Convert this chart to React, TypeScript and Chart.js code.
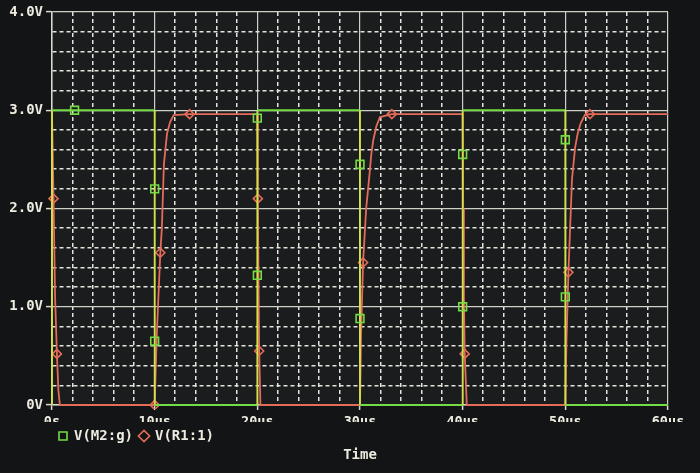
import React, { useEffect, useRef } from 'react';
import { Chart, registerables } from 'chart.js';

Chart.register(...registerables);

// ---- data (time in microseconds, voltage in volts) ----
const seriesNames = ['V(M2:g)', 'V(R1:1)'];

const xTickLabels = ['0s', '10us', '20us', '30us', '40us', '50us', '60us'];
const yTickLabels = ['0V', '1.0V', '2.0V', '3.0V', '4.0V'];
const axisTitle = 'Time';

// V(M2:g) – gate square wave
const gateTime = [0, 0, 2.2, 10, 10, 10, 10, 20, 20, 20, 20, 30, 30, 30, 30, 40, 40, 40, 40, 50, 50, 50, 50, 60];
const gateVolt = [0, 3.0, 3.0, 3.0, 2.2, 0.65, 0, 0, 1.32, 2.92, 3.0, 3.0, 2.45, 0.88, 0, 0, 1.0, 2.55, 3.0, 3.0, 2.7, 1.1, 0, 0];
const gateMarkers = [2, 4, 5, 8, 9, 12, 13, 16, 17, 20, 21];

// V(R1:1) – complementary RC-shaped waveform
const resTime = [
  0, 0.15, 0.3, 0.48, 0.62, 0.77,
  10, 10.2, 10.55, 10.7, 10.9, 11.2, 11.5, 11.85, 13.4,
  20, 20.05, 20.12, 20.18, 20.3,
  30, 30.1, 30.3, 30.6, 30.9, 31.1, 31.3, 31.6, 31.95, 33.1,
  40, 40.05, 40.12, 40.2, 40.4,
  50, 50.1, 50.3, 50.65, 50.95, 51.2, 51.5, 51.9, 52.4, 60,
];
const resVolt = [
  2.96, 2.1, 1.1, 0.52, 0.15, 0,
  0, 0.7, 1.55, 1.8, 2.45, 2.76, 2.88, 2.95, 2.96,
  2.96, 2.1, 1.2, 0.55, 0,
  0, 0.7, 1.45, 2.0, 2.32, 2.55, 2.7, 2.84, 2.93, 2.96,
  2.96, 2.0, 1.1, 0.52, 0,
  0, 0.6, 1.35, 2.3, 2.62, 2.76, 2.87, 2.95, 2.96, 2.96,
];
const resMarkers = [1, 3, 6, 8, 14, 16, 18, 22, 29, 33, 37, 43];

const xMin = 0, xMax = 60, xMinorStep = 2, xMajorStep = 10;
const yMin = 0, yMax = 4, yMinorStep = 0.2, yMajorStep = 1;

// ---- styling ----
const FONT = 'DejaVu Sans Mono';
const TEXT = '#ecebdf';
const GREEN = '#74dc44';
const RED = '#e46c5a';
const EDGE = '#d2e246';

const isMajor = (v: number, step: number) => Math.abs(v / step - Math.round(v / step)) < 1e-6;

const bgPlugin = {
  id: 'bg',
  beforeDraw(chart: any) {
    const { ctx, chartArea, width, height } = chart;
    ctx.save();
    ctx.fillStyle = '#131416';
    ctx.fillRect(0, 0, width, height);
    ctx.fillStyle = '#1a1c1e';
    ctx.fillRect(chartArea.left, chartArea.top, chartArea.right - chartArea.left, chartArea.bottom - chartArea.top);
    ctx.restore();
  },
};

const axisTitlePlugin = {
  id: 'axisTitle',
  afterDraw(chart: any) {
    const { ctx, chartArea } = chart;
    ctx.save();
    ctx.font = `bold 14px "${FONT}"`;
    ctx.fillStyle = TEXT;
    ctx.textAlign = 'center';
    ctx.textBaseline = 'middle';
    ctx.fillText(axisTitle, (chartArea.left + chartArea.right) / 2, chartArea.bottom + 50);
    ctx.restore();
  },
};

export default function App() {
  const canvasRef = useRef<HTMLCanvasElement | null>(null);

  useEffect(() => {
    document.body.style.margin = '0';
    const canvas = canvasRef.current;
    if (!canvas) return;

    const gateData = gateTime.map((t, i) => ({ x: t, y: gateVolt[i] }));
    const resData = resTime.map((t, i) => ({ x: t, y: resVolt[i] }));

    const gridColor = (ctx: any, step: number) =>
      ctx.tick && isMajor(ctx.tick.value, step) ? '#cfcfc6' : '#e4e4dc';
    const gridWidth = (ctx: any, step: number) =>
      ctx.tick && isMajor(ctx.tick.value, step) ? 1.2 : 1.5;
    const gridDash = (ctx: any, step: number) =>
      ctx.tick && !isMajor(ctx.tick.value, step) ? [4, 3] : [];
    const tickColor = (ctx: any, step: number) =>
      ctx.tick && isMajor(ctx.tick.value, step) ? '#d8d8d0' : 'rgba(0,0,0,0)';

    const chart = new Chart(canvas, {
      type: 'line',
      data: {
        datasets: [
          {
            label: seriesNames[0],
            data: gateData,
            borderColor: GREEN,
            borderWidth: 1.8,
            segment: {
              borderColor: (s: any) => (s.p0.parsed.x === s.p1.parsed.x ? EDGE : undefined),
            },
            pointStyle: 'rect',
            pointBorderColor: GREEN,
            pointBackgroundColor: 'rgba(0,0,0,0)',
            pointBorderWidth: 1.6,
            pointRadius: (c: any) => (gateMarkers.includes(c.dataIndex) ? 5.5 : 0),
            pointHoverRadius: (c: any) => (gateMarkers.includes(c.dataIndex) ? 5.5 : 0),
            tension: 0,
            fill: false,
            clip: 4,
          },
          {
            label: seriesNames[1],
            data: resData,
            borderColor: RED,
            borderWidth: 1.8,
            pointStyle: 'rectRot',
            pointBorderColor: RED,
            pointBackgroundColor: 'rgba(0,0,0,0)',
            pointBorderWidth: 1.6,
            pointRadius: (c: any) => (resMarkers.includes(c.dataIndex) ? 4.5 : 0),
            pointHoverRadius: (c: any) => (resMarkers.includes(c.dataIndex) ? 4.5 : 0),
            tension: 0,
            fill: false,
            clip: 4,
          },
        ],
      },
      options: {
        responsive: false,
        animation: false,
        events: [],
        layout: { padding: { top: 12, right: 32, bottom: 20, left: 0 } },
        scales: {
          x: {
            type: 'linear',
            min: xMin,
            max: xMax,
            afterFit: (s: any) => { s.height = 17; },
            ticks: {
              stepSize: xMinorStep,
              autoSkip: false,
              maxRotation: 0,
              color: TEXT,
              padding: 4,
              font: { family: FONT, weight: 'bold', size: 13.5 },
              callback: (v: any) => (isMajor(Number(v), xMajorStep) ? xTickLabels[Math.round(Number(v) / xMajorStep)] : ''),
            },
            grid: {
              color: (c: any) => gridColor(c, xMajorStep),
              lineWidth: (c: any) => gridWidth(c, xMajorStep),
              tickColor: (c: any) => tickColor(c, xMajorStep),
              tickLength: 5,
              tickWidth: 1.5,
            },
            border: {
              display: true,
              color: '#d8d8d0',
              width: 1.5,
              dash: (c: any) => gridDash(c, xMajorStep),
            },
          },
          y: {
            type: 'linear',
            min: yMin,
            max: yMax,
            afterFit: (s: any) => { s.width = 52; },
            ticks: {
              stepSize: yMinorStep,
              autoSkip: false,
              color: TEXT,
              padding: 3,
              font: { family: FONT, weight: 'bold', size: 14 },
              callback: (v: any) => (isMajor(Number(v), yMajorStep) ? yTickLabels[Math.round(Number(v) / yMajorStep)] : ''),
            },
            grid: {
              color: (c: any) => gridColor(c, yMajorStep),
              lineWidth: (c: any) => gridWidth(c, yMajorStep),
              tickColor: (c: any) => tickColor(c, yMajorStep),
              tickLength: 6,
              tickWidth: 1.5,
            },
            border: {
              display: true,
              color: '#d8d8d0',
              width: 1.5,
              dash: (c: any) => gridDash(c, yMajorStep),
            },
          },
        },
        plugins: {
          legend: {
            position: 'bottom',
            align: 'start',
            fullSize: false,
            labels: {
              usePointStyle: true,
              boxWidth: 8,
              boxHeight: 8,
              padding: 7,
              color: TEXT,
              font: { family: FONT, weight: 'bold', size: 14 },
            },
          },
          tooltip: { enabled: false },
          title: { display: false },
        },
      },
      plugins: [bgPlugin, axisTitlePlugin],
    } as any);

    return () => chart.destroy();
  }, []);

  return (
    <div style={{ position: 'absolute', left: 0, top: 0, width: 700, height: 473 }}>
      <canvas ref={canvasRef} width={700} height={473} style={{ display: 'block' }} />
    </div>
  );
}
